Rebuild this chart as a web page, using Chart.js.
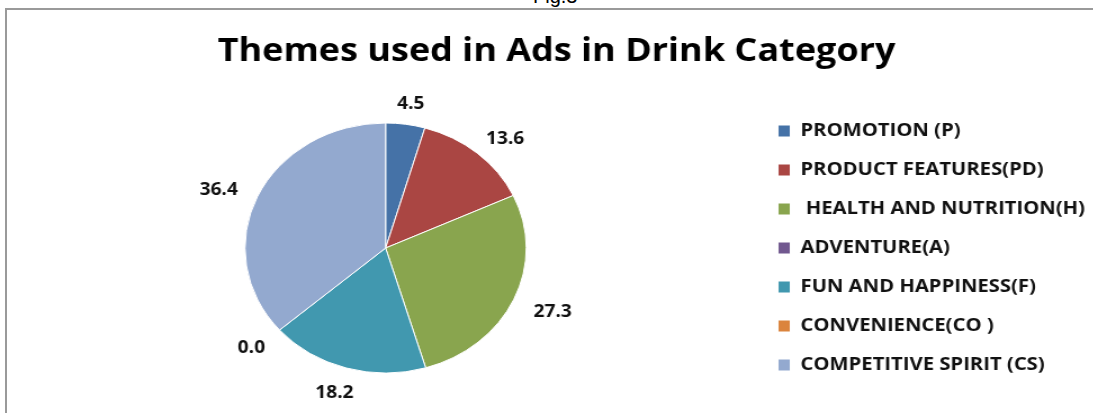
<!DOCTYPE html>
<html>
<head>
<meta charset="utf-8">
<script src="https://cdn.jsdelivr.net/npm/chart.js@4.4.1/dist/chart.umd.min.js"></script>
<style>
    html, body { margin: 0; padding: 0; background: #fff; overflow: hidden; width: 1093px; height: 413px; }
    #fig { position: absolute; top: -15px; left: 533px; font: 20px "Liberation Sans", Arial, sans-serif; color: #000; line-height: 23px; }
    #frame { position: absolute; left: 5px; top: 8px; width: 1200px; height: 500px; border-left: 2px solid #9a9a9a; border-top: 2px solid #9a9a9a; }
    #wrap { position: absolute; left: 0; top: 0; transform: scaleX(1.125); transform-origin: 0 0; }
</style>
</head>
<body>
<div id="fig">Fig.3</div>
<div id="frame"></div>
<div id="wrap"><canvas id="myChart" width="984" height="413"></canvas></div>
<script>
// data
const TITLE = 'Themes used in Ads in Drink Category';
const themes = [
    'PROMOTION (P)',
    'PRODUCT FEATURES(PD)',
    ' HEALTH AND NUTRITION(H)',
    'ADVENTURE(A)',
    'FUN AND HAPPINESS(F)',
    'CONVENIENCE(CO )',
    'COMPETITIVE SPIRIT (CS)'
];
const shares = [4.5, 13.6, 27.3, 0.0, 18.2, 0.0, 36.4];
const showLabel = [true, true, true, false, true, true, true];
const sliceColors = ['#4572A7', '#AA4643', '#89A54E', '#71588F', '#4198AF', '#DB843D', '#93A9CF'];

const FONT = '"Open Sans", Lato, sans-serif';

// value labels outside the slices (like excel "outside end")
const sliceLabels = {
    id: 'sliceLabels',
    afterDatasetsDraw(chart) {
        const ctx = chart.ctx;
        const meta = chart.getDatasetMeta(0);
        ctx.save();
        ctx.font = 'bold 17px ' + FONT;
        ctx.fillStyle = '#111';
        ctx.textAlign = 'center';
        ctx.textBaseline = 'middle';
        meta.data.forEach((arc, i) => {
            if (!showLabel[i]) return;
            const p = arc.getProps(['x', 'y', 'startAngle', 'endAngle', 'outerRadius'], true);
            const mid = (p.startAngle + p.endAngle) / 2;
            const ux = Math.cos(mid), uy = Math.sin(mid);
            const txt = shares[i].toFixed(1);
            const w = ctx.measureText(txt).width, h = 4;
            const r = p.outerRadius + 21;
            ctx.fillText(txt, p.x + r * ux + ux * w / 2, p.y + r * uy + uy * h / 2 + 3);
        });
        ctx.restore();
    }
};

const ctx = document.getElementById('myChart').getContext('2d');
new Chart(ctx, {
    type: 'pie',
    data: {
        labels: themes,
        datasets: [{
            data: shares,
            backgroundColor: sliceColors,
            borderColor: '#ffffff',
            borderWidth: 1,
            hoverOffset: 0,
            radius: 125
        }]
    },
    options: {
        responsive: false,
        animation: false,
        layout: { padding: { left: 15, right: 9.6, top: 0, bottom: 0 } },
        plugins: {
            title: {
                display: true,
                text: TITLE,
                color: '#000',
                font: { family: FONT, size: 32, weight: 'bold' },
                padding: { top: 33, bottom: 11.6 }
            },
            legend: {
                position: 'right',
                fullSize: false,
                labels: {
                    boxWidth: 11,
                    boxHeight: 12,
                    padding: 21,
                    color: '#111',
                    font: { family: FONT, size: 18, weight: 'bold' }
                }
            },
            tooltip: { enabled: false }
        }
    },
    plugins: [sliceLabels]
});
</script>
</body>
</html>
